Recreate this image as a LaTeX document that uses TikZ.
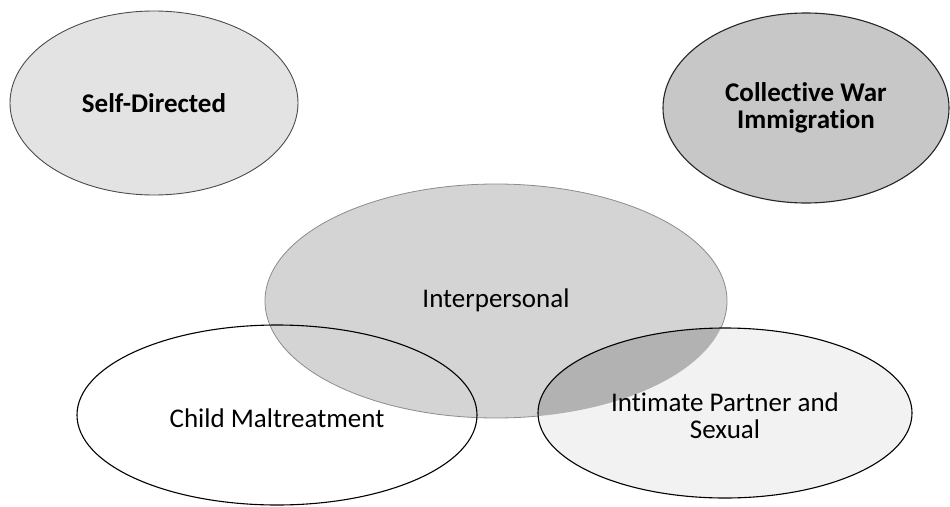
\documentclass[tikz,border=0pt]{standalone}
\usepackage{fontspec}
\setmainfont[Ligatures=NoCommon,RawFeature={-liga;-clig}]{Carlito}
\usetikzlibrary{shapes.geometric}
\begin{document}
\begin{tikzpicture}[x=1pt,y=-1pt,
  ell/.style={ellipse, inner sep=0pt, align=center, font=\fontsize{27}{27}\selectfont},
  lbl/.style={align=center, font=\fontsize{27}{27}\selectfont}]
\useasboundingbox (0,0) rectangle (950,506);
\fill[white] (0,0) rectangle (950,506);
% Self-Directed
\node[ell, draw=black!70, line width=0.9pt, fill=black!11,
  minimum width=288pt, minimum height=184pt,
  font=\fontsize{27}{27}\selectfont\bfseries] (self) at (154,103) {Self-Directed};
% Collective
\node[ell, draw=black!85, line width=1.1pt, fill=black!22,
  minimum width=286pt, minimum height=190pt,
  font=\fontsize{27}{27}\selectfont\bfseries] (coll) at (806,108) {Collective War\\Immigration};
% child fill underneath
\fill[white] (277,415) ellipse [x radius=200, y radius=90];
% Interpersonal
\node[ell, draw=black!45, line width=0.8pt, fill=black!17,
  minimum width=462pt, minimum height=234pt] (inter) at (496,301) {};
\node[lbl] (interT) at (496,300) {Interpersonal};
% Child outline
\node[ell, draw=black, line width=1.1pt,
  minimum width=400pt, minimum height=180pt] (child) at (277,415) {};
\node[lbl] (childT) at (277,418) {Child Maltreatment};
% Intimate
\node[ell, fill=black!5,
  minimum width=374pt, minimum height=170pt] (intim) at (725,413) {};
\begin{scope}
  \clip (496,301) ellipse [x radius=231, y radius=117];
  \fill[black!30] (725,413) ellipse [x radius=187, y radius=85];
\end{scope}
\draw[black, line width=1.1pt] (intim.center) ellipse [x radius=187, y radius=85];
\node[lbl] (intimT) at (725,416) {Intimate Partner and\\Sexual};
\end{tikzpicture}
\end{document}
